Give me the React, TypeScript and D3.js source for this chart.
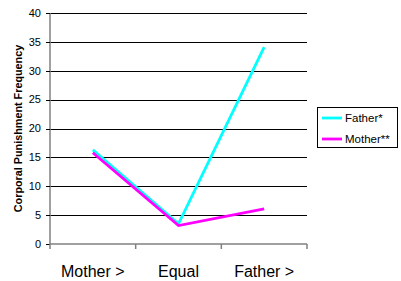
import React from "react";
import * as d3 from "d3";

const categories = ["Mother >", "Equal", "Father >"];
const fatherValues = [16.3, 3.5, 34.1];
const motherValues = [15.8, 3.2, 6.1];
const yTicks = [0, 5, 10, 15, 20, 25, 30, 35, 40];

const series = [
  { name: "Father*", color: "#00FFFF", values: fatherValues },
  { name: "Mother**", color: "#FF00FF", values: motherValues },
];

const App = () => {
  const width = 401;
  const height = 281;
  const left = 50;
  const right = 307;
  const top = 13;
  const bottom = 244;

  const xScale = d3.scaleBand().domain(categories).range([left, right]);
  const yScale = d3.scaleLinear().domain([0, 40]).range([bottom, top]);

  const line = d3
    .line<number>()
    .x((d, i) => (xScale(categories[i]) as number) + xScale.bandwidth() / 2)
    .y((d) => yScale(d));

  const tickXs = [...categories.map((c) => xScale(c) as number), right];

  return (
    <svg
      width={width}
      height={height}
      style={{ position: "absolute", left: 0, top: 0, background: "#fff" }}
      fontFamily="Liberation Sans, Arial, sans-serif"
    >
      {/* gridlines */}
      {yTicks.slice(1).map((t) => (
        <line
          key={t}
          x1={left}
          x2={right}
          y1={Math.round(yScale(t)) + 0.5}
          y2={Math.round(yScale(t)) + 0.5}
          stroke="#000"
          strokeWidth={1.2}
        />
      ))}
      {/* y axis */}
      <line x1={left} x2={left} y1={top} y2={bottom} stroke="#808080" strokeWidth={1.5} />
      {yTicks.map((t) => (
        <g key={t}>
          <line
            x1={left - 4}
            x2={left}
            y1={Math.round(yScale(t)) + 0.5}
            y2={Math.round(yScale(t)) + 0.5}
            stroke="#000"
          />
          <text
            x={left - 9}
            y={yScale(t)}
            dy="0.35em"
            textAnchor="end"
            fontSize={11}
            fill="#000"
          >
            {t}
          </text>
        </g>
      ))}
      {/* x axis */}
      <line x1={left} x2={right} y1={bottom} y2={bottom} stroke="#808080" strokeWidth={1.5} />
      {tickXs.map((x, i) => (
        <line key={i} x1={x} x2={x} y1={bottom} y2={bottom + 5} stroke="#808080" strokeWidth={1.5} />
      ))}
      {categories.map((c) => (
        <text
          key={c}
          x={(xScale(c) as number) + xScale.bandwidth() / 2}
          y={277}
          textAnchor="middle"
          fontSize={16}
          fill="#000"
        >
          {c}
        </text>
      ))}
      <text
        transform={`translate(18, ${(top + bottom) / 2}) rotate(-90)`}
        textAnchor="middle"
        dy="0.35em"
        fontSize={10.8}
        fontWeight="bold"
        fill="#000"
      >
        Corporal Punishment Frequency
      </text>
      {/* series */}
      {series.map((s) => (
        <path
          key={s.name}
          d={line(s.values) as string}
          fill="none"
          stroke={s.color}
          strokeWidth={2.8}
        />
      ))}
      {/* legend */}
      <rect x={317.5} y={107.5} width={80} height={40} fill="#fff" stroke="#000" strokeWidth={1} />
      {series.map((s, i) => (
        <g key={s.name}>
          <line
            x1={322}
            x2={342}
            y1={118 + i * 21}
            y2={118 + i * 21}
            stroke={s.color}
            strokeWidth={2.8}
          />
          <text x={345} y={118 + i * 21} dy="0.35em" fontSize={11.5} fill="#000">
            {s.name}
          </text>
        </g>
      ))}
    </svg>
  );
};

export default App;
